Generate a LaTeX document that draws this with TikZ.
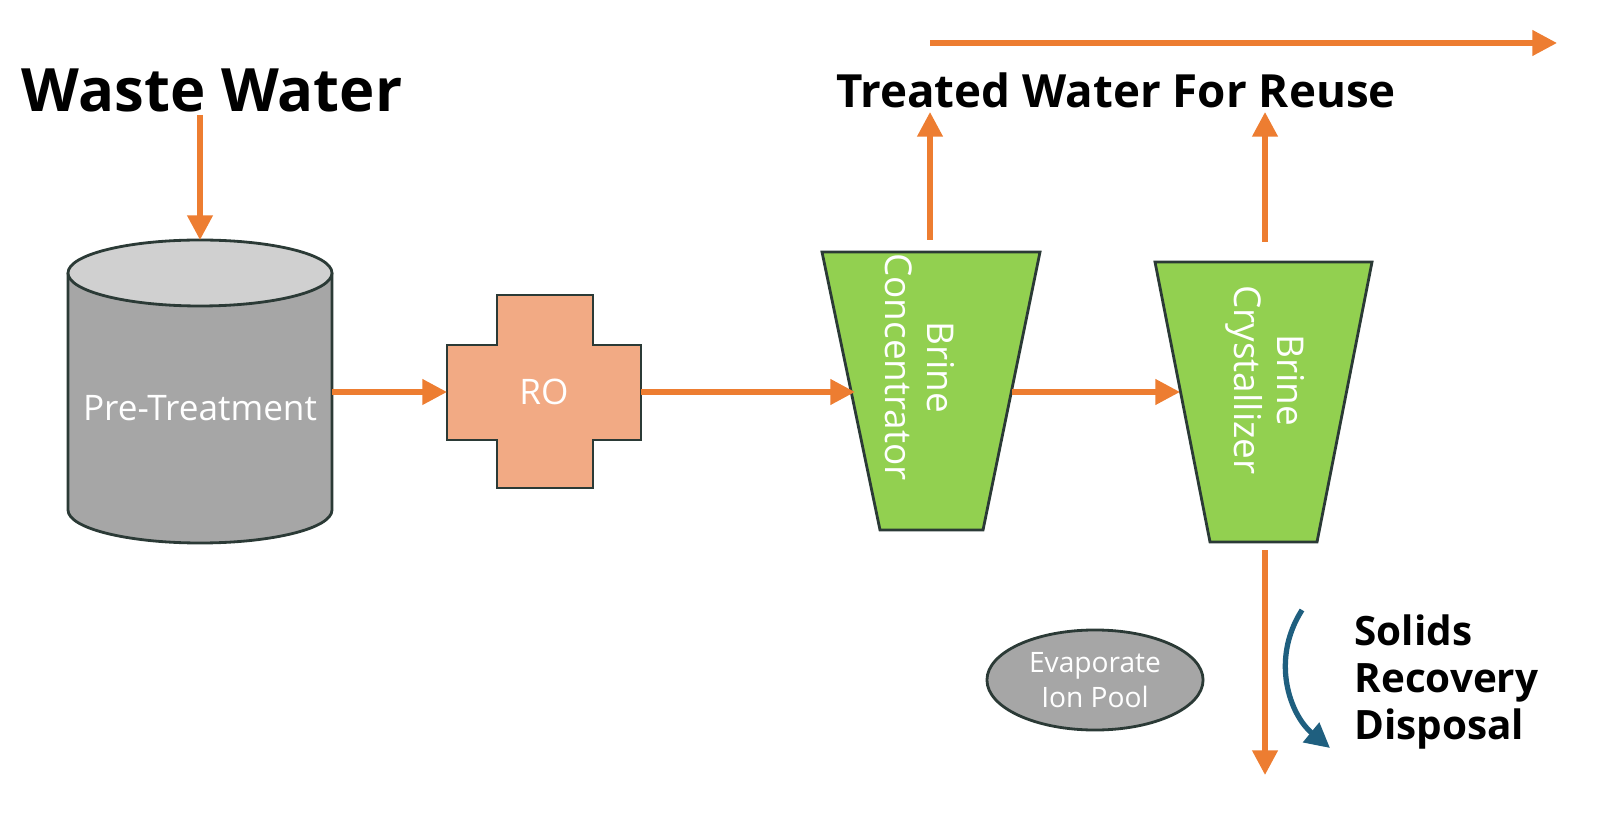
\documentclass[tikz,border=0pt]{standalone}
\usepackage{fontspec}
\setmainfont{Open Sans}
\newfontfamily\headfont{Open Sans}
\usetikzlibrary{arrows.meta,shapes.geometric}
\definecolor{flow}{HTML}{ED7D31}
\definecolor{tank}{HTML}{A6A6A6}
\definecolor{tanktop}{HTML}{D0D0D0}
\definecolor{rofill}{HTML}{F2AA84}
\definecolor{brine}{HTML}{92D050}
\definecolor{turn}{HTML}{1F5F7F}
\definecolor{edgec}{HTML}{2B3A36}
\begin{document}
\begin{tikzpicture}[x=0.01cm,y=-0.01cm,
    flowarrow/.style={draw=flow,line width=1.5pt,-{Triangle[length=7pt,width=7pt]}},
    unit/.style={draw=edgec,line width=0.8pt},
    head/.style={font=\headfont\bfseries},
    inner/.style={text=white,align=center}]
    \useasboundingbox (0,0) rectangle (1613,819);
    % tank
    \fill[tank] (68,273) -- (68,510) arc[start angle=180,end angle=360,x radius=132,y radius=-33] -- (332,273) -- cycle;
    \draw[unit] (68,273) -- (68,510) arc[start angle=180,end angle=360,x radius=132,y radius=-33] -- (332,273);
    \draw[unit,fill=tanktop] (200,273) ellipse[x radius=132,y radius=33];
    % RO cross
    \draw[unit,fill=rofill] (497,295) -- (593,295) -- (593,345) -- (641,345) -- (641,440) -- (593,440)
        -- (593,488) -- (497,488) -- (497,440) -- (447,440) -- (447,345) -- (497,345) -- cycle;
    % trapezoids
    \draw[unit,fill=brine] (822,252) -- (1040,252) -- (983,530) -- (880,530) -- cycle;
    \draw[unit,fill=brine] (1155,262) -- (1372,262) -- (1317,542) -- (1210,542) -- cycle;
    % pool
    \node[ellipse,draw=edgec,line width=0.8pt,fill=tank,minimum width=2.16cm,minimum height=1cm,
        inner sep=0pt,inner,font=\fontsize{8}{10}\selectfont] (pool) at (1095,680) {Evaporate\\Ion Pool};
    % texts
    \node[head,font=\headfont\bfseries\fontsize{17}{20}\selectfont] (waste) at (212,90) {Waste Water};
    \node[head,font=\headfont\bfseries\fontsize{13}{16}\selectfont] (treated) at (1116,90) {Treated Water For Reuse};
    \node[head,font=\headfont\bfseries\fontsize{11.5}{13.5}\selectfont,align=left,anchor=west] (solids) at (1342,682) {Solids\\Recovery\\Disposal};
    \node[inner,font=\fontsize{10}{12}\selectfont] (pre) at (200,408) {Pre-Treatment};
    \node[inner,font=\fontsize{10}{12}\selectfont] (ro) at (544,392) {RO};
    \node[inner,rotate=-90,font=\fontsize{10.5}{12}\selectfont] (conc) at (920,367) {Brine\\Concentrator};
    \node[inner,rotate=-90,font=\fontsize{10.5}{12}\selectfont] (cryst) at (1265,380) {Brine\\Crystallizer};
    % anchor points
    \coordinate (w1) at (200,115); \coordinate (w2) at (200,240);
    \coordinate (t1) at (332,392); \coordinate (t2) at (447,392);
    \coordinate (r1) at (641,392); \coordinate (r2) at (855,392);
    \coordinate (c1) at (1012,392); \coordinate (c2) at (1180,392);
    \coordinate (c3) at (930,240); \coordinate (c4) at (930,112);
    \coordinate (k3) at (1265,242); \coordinate (k4) at (1265,112);
    \coordinate (top1) at (930,43); \coordinate (top2) at (1557,43);
    \coordinate (k5) at (1265,550); \coordinate (k6) at (1265,775);
    \coordinate (s1) at (1302,610); \coordinate (s2) at (1330,748);
    % flows
    \draw[flowarrow] (w1) -- (w2);
    \draw[flowarrow] (t1) -- (t2);
    \draw[flowarrow] (r1) -- (r2);
    \draw[flowarrow] (c1) -- (c2);
    \draw[flowarrow] (c3) -- (c4);
    \draw[flowarrow] (k3) -- (k4);
    \draw[flowarrow] (top1) -- (top2);
    \draw[flowarrow] (k5) -- (k6);
    \draw[draw=turn,line width=1.5pt,-{Triangle[length=7pt,width=7pt]}] (s1) .. controls (1270,660) and (1290,715) .. (s2);
\end{tikzpicture}
\end{document}
